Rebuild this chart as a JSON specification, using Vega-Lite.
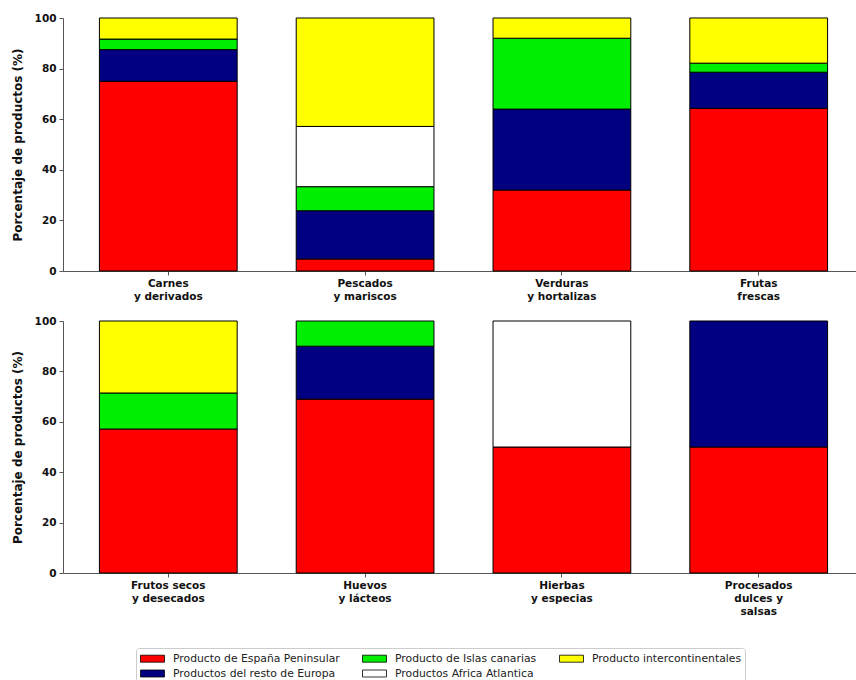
{
  "$schema": "https://vega.github.io/schema/vega-lite/v6.json",
  "padding": {"left": 11, "top": 13, "right": 0, "bottom": 0},
  "datasets": {
    "d": [
      {"panel": 1, "categoria": "Carnes|y derivados", "origen": "Producto de España Peninsular", "valor": 75},
      {"panel": 1, "categoria": "Carnes|y derivados", "origen": "Productos del resto de Europa", "valor": 12.5},
      {"panel": 1, "categoria": "Carnes|y derivados", "origen": "Producto de Islas canarias", "valor": 4.17},
      {"panel": 1, "categoria": "Carnes|y derivados", "origen": "Producto intercontinentales", "valor": 8.33},
      {"panel": 1, "categoria": "Pescados|y mariscos", "origen": "Producto de España Peninsular", "valor": 4.76},
      {"panel": 1, "categoria": "Pescados|y mariscos", "origen": "Productos del resto de Europa", "valor": 19.05},
      {"panel": 1, "categoria": "Pescados|y mariscos", "origen": "Producto de Islas canarias", "valor": 9.52},
      {"panel": 1, "categoria": "Pescados|y mariscos", "origen": "Productos Africa Atlantica", "valor": 23.81},
      {"panel": 1, "categoria": "Pescados|y mariscos", "origen": "Producto intercontinentales", "valor": 42.86},
      {"panel": 1, "categoria": "Verduras|y hortalizas", "origen": "Producto de España Peninsular", "valor": 32},
      {"panel": 1, "categoria": "Verduras|y hortalizas", "origen": "Productos del resto de Europa", "valor": 32},
      {"panel": 1, "categoria": "Verduras|y hortalizas", "origen": "Producto de Islas canarias", "valor": 28},
      {"panel": 1, "categoria": "Verduras|y hortalizas", "origen": "Producto intercontinentales", "valor": 8},
      {"panel": 1, "categoria": "Frutas|frescas", "origen": "Producto de España Peninsular", "valor": 64.29},
      {"panel": 1, "categoria": "Frutas|frescas", "origen": "Productos del resto de Europa", "valor": 14.29},
      {"panel": 1, "categoria": "Frutas|frescas", "origen": "Producto de Islas canarias", "valor": 3.57},
      {"panel": 1, "categoria": "Frutas|frescas", "origen": "Producto intercontinentales", "valor": 17.86},
      {"panel": 2, "categoria": "Frutos secos|y desecados", "origen": "Producto de España Peninsular", "valor": 57.14},
      {"panel": 2, "categoria": "Frutos secos|y desecados", "origen": "Producto de Islas canarias", "valor": 14.29},
      {"panel": 2, "categoria": "Frutos secos|y desecados", "origen": "Producto intercontinentales", "valor": 28.57},
      {"panel": 2, "categoria": "Huevos|y lácteos", "origen": "Producto de España Peninsular", "valor": 69},
      {"panel": 2, "categoria": "Huevos|y lácteos", "origen": "Productos del resto de Europa", "valor": 21},
      {"panel": 2, "categoria": "Huevos|y lácteos", "origen": "Producto de Islas canarias", "valor": 10},
      {"panel": 2, "categoria": "Hierbas|y especias", "origen": "Producto de España Peninsular", "valor": 50},
      {"panel": 2, "categoria": "Hierbas|y especias", "origen": "Productos Africa Atlantica", "valor": 50},
      {"panel": 2, "categoria": "Procesados|dulces y|salsas", "origen": "Producto de España Peninsular", "valor": 50},
      {"panel": 2, "categoria": "Procesados|dulces y|salsas", "origen": "Productos del resto de Europa", "valor": 50}
    ]
  },
  "data": {"name": "d"},
  "transform": [
    {"calculate": "indexof(['Producto de España Peninsular','Productos del resto de Europa','Producto de Islas canarias','Productos Africa Atlantica','Producto intercontinentales'], datum.origen)", "as": "orden"}
  ],
  "vconcat": [
    {
      "width": 801,
      "height": 253,
      "transform": [{"filter": "datum.panel == 1"}],
      "mark": {"type": "bar", "stroke": "black", "strokeWidth": 1},
      "encoding": {
        "x": {"field": "categoria", "type": "nominal", "sort": null,
              "scale": {"paddingInner": 0.3, "paddingOuter": 0.185},
              "axis": {"title": null, "labelAngle": 0, "labelExpr": "split(datum.label, '|')", "labelLineHeight": 13}},
        "y": {"field": "valor", "type": "quantitative", "stack": "zero",
              "scale": {"domain": [0, 100], "nice": false},
              "axis": {"title": "Porcentaje de productos (%)", "values": [0, 20, 40, 60, 80, 100]}},
        "color": {"field": "origen", "type": "nominal",
                  "scale": {"domain": ["Producto de España Peninsular", "Producto de Islas canarias", "Producto intercontinentales", "Productos del resto de Europa", "Productos Africa Atlantica"],
                            "range": ["#ff0000", "#00ee00", "#ffff00", "#000080", "#ffffff"]},
                  "legend": {"title": null, "orient": "none", "legendX": 73, "legendY": 630}},
        "order": {"field": "orden", "type": "quantitative"}
      }
    },
    {
      "width": 801,
      "height": 252,
      "transform": [{"filter": "datum.panel == 2"}],
      "mark": {"type": "bar", "stroke": "black", "strokeWidth": 1},
      "encoding": {
        "x": {"field": "categoria", "type": "nominal", "sort": null,
              "scale": {"paddingInner": 0.3, "paddingOuter": 0.185},
              "axis": {"title": null, "labelAngle": 0, "labelExpr": "split(datum.label, '|')", "labelLineHeight": 13}},
        "y": {"field": "valor", "type": "quantitative", "stack": "zero",
              "scale": {"domain": [0, 100], "nice": false},
              "axis": {"title": "Porcentaje de productos (%)", "values": [0, 20, 40, 60, 80, 100]}},
        "color": {"field": "origen", "type": "nominal",
                  "scale": {"domain": ["Producto de España Peninsular", "Producto de Islas canarias", "Producto intercontinentales", "Productos del resto de Europa", "Productos Africa Atlantica"],
                            "range": ["#ff0000", "#00ee00", "#ffff00", "#000080", "#ffffff"]},
                  "legend": {"title": null, "orient": "none", "legendX": 73, "legendY": 630}},
        "order": {"field": "orden", "type": "quantitative"}
      }
    }
  ],
  "spacing": 14,
  "config": {
    "font": "DejaVu Sans",
    "view": {"stroke": null},
    "axis": {
      "labelFont": "DejaVu Sans", "labelFontWeight": "bold", "labelFontSize": 10.5, "labelColor": "#111",
      "titleFont": "DejaVu Sans", "titleFontWeight": "bold", "titleFontSize": 12, "titleColor": "#111",
      "domainColor": "#555", "tickColor": "#555", "grid": false, "tickSize": 4, "labelPadding": 3, "titlePadding": 10
    },
    "legend": {
      "direction": "horizontal", "columns": 3,
      "labelFont": "DejaVu Sans", "labelFontSize": 10.8, "labelColor": "#222",
      "symbolType": "M-0.857,-0.5L2.571,-0.5L2.571,0.5L-0.857,0.5Z", "symbolSize": 196,
      "symbolStrokeColor": "black", "symbolStrokeWidth": 0.8, "symbolOpacity": 1,
      "columnPadding": 20, "rowPadding": 2, "labelOffset": 19,
      "strokeColor": "#cccccc", "padding": 3, "cornerRadius": 3,
      "labelLimit": 300
    }
  }
}
